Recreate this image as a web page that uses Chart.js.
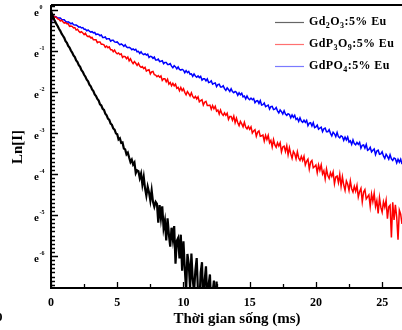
<!DOCTYPE html>
<html>
<head>
<meta charset="utf-8">
<script src="https://cdn.jsdelivr.net/npm/chart.js@4.4.1/dist/chart.umd.min.js"></script>
<style>
  html, body { margin: 0; padding: 0; background: #fff; }
  #wrap { width: 402px; height: 330px; }
</style>
</head>
<body>
<div id="wrap"><canvas id="decayChart" width="402" height="330"></canvas></div>
<script>
// ln(I), one value every 0.1 ms
const seriesNames = ['Gd2O3:5% Eu', 'GdP3O9:5% Eu', 'GdPO4:5% Eu'];
const seriesColors = ['#000000', '#ff0000', '#0000ff'];
const legendColors = ['#666666', '#ff7070', '#7a7aff'];

const timeStep = 0.1; // ms

const lnGd2O3 = [
  -0.25, -0.12, -0.22, -0.27, -0.34, -0.39, -0.46, -0.51, -0.58, -0.63,
  -0.68, -0.76, -0.80, -0.88, -0.92, -0.99, -1.04, -1.11, -1.15, -1.23,
  -1.27, -1.35, -1.39, -1.47, -1.51, -1.58, -1.63, -1.70, -1.74, -1.82,
  -1.86, -1.94, -1.98, -2.06, -2.10, -2.17, -2.21, -2.30, -2.33, -2.41,
  -2.44, -2.53, -2.57, -2.65, -2.68, -2.77, -2.80, -2.89, -2.92, -3.01,
  -3.03, -3.16, -3.13, -3.24, -3.23, -3.38, -3.40, -3.52, -3.48, -3.60,
  -3.71, -3.65, -3.77, -3.72, -3.98, -3.91, -3.93, -4.10, -3.99, -4.26,
  -4.07, -4.35, -4.53, -4.31, -4.45, -4.65, -4.40, -4.68, -4.80, -4.68,
  -4.73, -5.19, -4.76, -5.08, -4.79, -5.32, -5.14, -5.62, -5.08, -5.47,
  -5.77, -5.31, -5.59, -5.27, -6.19, -5.63, -5.56, -6.06, -5.48, -6.36,
  -5.64, -6.30, -6.85, -5.95, -6.19, -6.79, -5.94, -6.57, -6.88, -6.35,
  -6.05, -6.90, -7.20, -6.40, -6.15, -7.30, -6.60, -6.25, -7.10, -6.70,
  -6.45, -7.30, -6.90, -6.60, -7.40, -6.62, -7.30
];

const lnGdP3O9 = [
  -0.32, -0.15, -0.15, -0.18, -0.18, -0.22, -0.23, -0.27, -0.25, -0.29,
  -0.32, -0.31, -0.34, -0.34, -0.40, -0.39, -0.40, -0.44, -0.43, -0.49,
  -0.47, -0.52, -0.55, -0.53, -0.56, -0.60, -0.57, -0.63, -0.65, -0.64,
  -0.68, -0.67, -0.73, -0.73, -0.73, -0.80, -0.78, -0.78, -0.84, -0.84,
  -0.85, -0.91, -0.88, -0.92, -0.90, -0.97, -0.97, -1.02, -0.98, -1.04,
  -1.07, -1.05, -1.09, -1.07, -1.16, -1.13, -1.14, -1.19, -1.15, -1.24,
  -1.19, -1.26, -1.31, -1.26, -1.30, -1.35, -1.30, -1.37, -1.40, -1.38,
  -1.43, -1.40, -1.49, -1.47, -1.46, -1.56, -1.51, -1.50, -1.58, -1.59,
  -1.63, -1.60, -1.64, -1.61, -1.72, -1.68, -1.68, -1.75, -1.69, -1.81,
  -1.77, -1.85, -1.79, -1.85, -1.81, -1.91, -1.89, -1.97, -1.89, -1.97,
  -1.92, -2.01, -2.07, -1.99, -2.04, -2.10, -2.02, -2.11, -2.15, -2.11,
  -2.17, -2.12, -2.24, -2.21, -2.19, -2.32, -2.25, -2.23, -2.33, -2.33,
  -2.32, -2.42, -2.33, -2.41, -2.35, -2.47, -2.44, -2.54, -2.44, -2.53,
  -2.57, -2.51, -2.57, -2.52, -2.67, -2.60, -2.60, -2.69, -2.59, -2.75,
  -2.64, -2.75, -2.82, -2.72, -2.78, -2.85, -2.74, -2.86, -2.90, -2.84,
  -2.91, -2.85, -3.00, -2.95, -2.92, -3.08, -2.98, -2.95, -3.08, -3.07,
  -3.05, -3.20, -3.06, -3.16, -3.06, -3.24, -3.18, -3.34, -3.16, -3.29,
  -3.35, -3.24, -3.32, -3.24, -3.46, -3.34, -3.32, -3.45, -3.31, -3.53,
  -3.36, -3.51, -3.62, -3.45, -3.51, -3.63, -3.46, -3.61, -3.67, -3.57,
  -3.67, -3.57, -3.78, -3.69, -3.64, -3.88, -3.71, -3.67, -3.85, -3.82,
  -3.78, -3.97, -3.78, -3.91, -3.78, -4.00, -3.92, -4.12, -3.88, -4.04,
  -4.11, -3.97, -4.06, -3.95, -4.24, -4.07, -4.05, -4.21, -4.01, -4.30,
  -4.07, -4.27, -4.40, -4.17, -4.25, -4.40, -4.17, -4.36, -4.44, -4.30,
  -4.42, -4.28, -4.56, -4.43, -4.35, -4.68, -4.44, -4.38, -4.61, -4.56,
  -4.51, -4.79, -4.49, -4.67, -4.47, -4.79, -4.65, -4.96, -4.58, -4.81,
  -4.93, -4.68, -4.81, -4.64, -5.09, -4.80, -4.76, -5.55, -4.69, -5.12,
  -4.75, -5.05, -5.60, -4.88, -4.98, -5.22, -4.84
];

const lnGdPO4 = [
  -0.45, -0.12, -0.16, -0.16, -0.17, -0.20, -0.20, -0.20, -0.23, -0.24,
  -0.24, -0.28, -0.30, -0.29, -0.31, -0.34, -0.32, -0.36, -0.37, -0.37,
  -0.39, -0.42, -0.41, -0.44, -0.43, -0.47, -0.47, -0.51, -0.49, -0.52,
  -0.54, -0.53, -0.56, -0.55, -0.60, -0.59, -0.60, -0.63, -0.61, -0.67,
  -0.67, -0.66, -0.71, -0.70, -0.70, -0.76, -0.74, -0.74, -0.78, -0.79,
  -0.78, -0.82, -0.85, -0.83, -0.85, -0.89, -0.85, -0.90, -0.92, -0.91,
  -0.93, -0.97, -0.95, -0.98, -0.96, -1.02, -1.01, -1.06, -1.02, -1.07,
  -1.09, -1.07, -1.10, -1.08, -1.16, -1.13, -1.14, -1.18, -1.15, -1.22,
  -1.22, -1.20, -1.26, -1.25, -1.24, -1.31, -1.28, -1.28, -1.33, -1.33,
  -1.31, -1.37, -1.41, -1.36, -1.39, -1.44, -1.39, -1.45, -1.47, -1.45,
  -1.47, -1.53, -1.48, -1.53, -1.50, -1.57, -1.56, -1.62, -1.56, -1.61,
  -1.64, -1.61, -1.65, -1.62, -1.71, -1.68, -1.68, -1.73, -1.68, -1.77,
  -1.76, -1.73, -1.81, -1.79, -1.78, -1.87, -1.82, -1.81, -1.88, -1.88,
  -1.85, -1.92, -1.96, -1.90, -1.94, -1.99, -1.92, -1.99, -2.02, -1.99,
  -2.01, -2.08, -2.02, -2.07, -2.03, -2.12, -2.10, -2.17, -2.10, -2.16,
  -2.19, -2.15, -2.19, -2.16, -2.26, -2.22, -2.21, -2.28, -2.21, -2.32,
  -2.31, -2.27, -2.36, -2.34, -2.32, -2.42, -2.36, -2.35, -2.43, -2.42,
  -2.38, -2.46, -2.51, -2.44, -2.48, -2.54, -2.46, -2.54, -2.57, -2.53,
  -2.55, -2.63, -2.56, -2.62, -2.57, -2.67, -2.64, -2.72, -2.63, -2.71,
  -2.74, -2.69, -2.74, -2.69, -2.82, -2.76, -2.75, -2.83, -2.75, -2.87,
  -2.85, -2.81, -2.91, -2.88, -2.86, -2.97, -2.90, -2.88, -2.97, -2.97,
  -2.92, -3.01, -3.07, -2.98, -3.02, -3.09, -2.99, -3.09, -3.12, -3.07,
  -3.09, -3.18, -3.10, -3.17, -3.10, -3.22, -3.19, -3.28, -3.17, -3.26,
  -3.29, -3.23, -3.28, -3.23, -3.37, -3.30, -3.29, -3.37, -3.28, -3.42,
  -3.40, -3.35, -3.46, -3.42, -3.39, -3.53, -3.44, -3.42, -3.52, -3.51,
  -3.46, -3.56, -3.62, -3.52, -3.57, -3.64, -3.53, -3.63, -3.67, -3.61,
  -3.63, -3.73, -3.64, -3.71, -3.64, -3.76, -3.73
];

const xTicks = [0, 5, 10, 15, 20, 25];
const yTicks = [0, -1, -2, -3, -4, -5, -6];

const SERIF = '"Liberation Serif", "Times New Roman", serif';

function toPoints(values) {
  return values.map((v, i) => ({ x: +(i * timeStep).toFixed(2), y: v }));
}

// digits right after a letter are drawn as subscripts
function drawChemLabel(ctx, text, x, y) {
  let cx = x;
  for (let i = 0; i < text.length; i++) {
    const ch = text[i];
    const isSub = /[0-9]/.test(ch) && i > 0 && /[A-Za-z]/.test(text[i - 1]);
    ctx.font = isSub ? 'bold 8px ' + SERIF : 'bold 12px ' + SERIF;
    ctx.fillText(ch, cx, isSub ? y + 4 : y);
    cx += ctx.measureText(ch).width + (isSub ? 0.5 : 0.4);
  }
}

const framePlugin = {
  id: 'frame',
  afterDatasetsDraw(chart) {
    const { ctx, chartArea: a, scales: { x, y } } = chart;
    ctx.save();
    ctx.strokeStyle = '#000';
    ctx.fillStyle = '#000';

    // axis lines + top frame
    ctx.lineWidth = 2;
    ctx.beginPath();
    ctx.moveTo(a.left, a.top); ctx.lineTo(a.right, a.top);
    ctx.moveTo(a.left, a.top); ctx.lineTo(a.left, a.bottom);
    ctx.moveTo(a.left - 1, a.bottom); ctx.lineTo(a.right, a.bottom);
    ctx.stroke();

    // inward ticks: y minor every 0.1, x minor halfway
    ctx.lineWidth = 1.3;
    ctx.beginPath();
    for (let k = -67; k <= 1; k++) {
      const py = Math.round(y.getPixelForValue(k / 10)) + 0.5;
      const len = k % 10 === 0 ? 7 : 4;
      ctx.moveTo(a.left, py); ctx.lineTo(a.left + len, py);
    }
    for (let v = 0; v <= 26; v += 2.5) {
      const px = Math.round(x.getPixelForValue(v)) + 0.5;
      const len = v % 5 === 0 ? 6 : 4;
      ctx.moveTo(px, a.bottom); ctx.lineTo(px, a.bottom - len);
    }
    ctx.stroke();

    // y tick labels e^n
    yTicks.forEach(v => {
      const py = y.getPixelForValue(v);
      ctx.textAlign = 'right';
      ctx.textBaseline = 'alphabetic';
      ctx.font = 'bold 11px ' + SERIF;
      ctx.fillText('e', 39, py + 6);
      ctx.textAlign = 'left';
      ctx.font = 'bold 6px ' + SERIF;
      ctx.fillText(v === 0 ? '0' : '-' + Math.abs(v), 39.5, py - 1);
    });

    // x tick labels
    ctx.textAlign = 'center';
    ctx.textBaseline = 'middle';
    ctx.font = 'bold 12px ' + SERIF;
    xTicks.forEach(v => ctx.fillText(String(v), x.getPixelForValue(v), 303));

    // axis titles
    ctx.font = 'bold 15px ' + SERIF;
    ctx.fillText('Thời gian sống (ms)', 237, 319);
    ctx.save();
    ctx.translate(18, 147);
    ctx.rotate(-Math.PI / 2);
    ctx.fillText('Ln[I]', 0, 0);
    ctx.restore();

    // stray glyph cut by the left edge of the original
    ctx.textAlign = 'left';
    ctx.font = 'bold 13px ' + SERIF;
    ctx.fillText('0', -4, 318);

    // legend
    const rows = [22.5, 44.5, 66.5];
    ctx.textBaseline = 'middle';
    seriesNames.forEach((name, i) => {
      ctx.strokeStyle = legendColors[i];
      ctx.lineWidth = 1.2;
      ctx.beginPath();
      ctx.moveTo(275, rows[i]); ctx.lineTo(304, rows[i]);
      ctx.stroke();
      ctx.fillStyle = '#000';
      drawChemLabel(ctx, name, 309, rows[i] - 1);
    });
    ctx.restore();
  }
};

new Chart(document.getElementById('decayChart').getContext('2d'), {
  type: 'line',
  data: {
    datasets: [
      { label: seriesNames[0], data: toPoints(lnGd2O3), borderColor: seriesColors[0], borderWidth: 2.2 },
      { label: seriesNames[1], data: toPoints(lnGdP3O9), borderColor: seriesColors[1], borderWidth: 1.5 },
      { label: seriesNames[2], data: toPoints(lnGdPO4), borderColor: seriesColors[2], borderWidth: 1.5 }
    ]
  },
  options: {
    responsive: false,
    animation: false,
    layout: { padding: { left: 51, right: 0, top: 5, bottom: 42 } },
    elements: { point: { radius: 0 }, line: { tension: 0 } },
    plugins: { legend: { display: false }, tooltip: { enabled: false } },
    scales: {
      x: { type: 'linear', min: 0, max: 26.5, display: false },
      y: { type: 'linear', min: -6.78, max: 0.12, display: false }
    }
  },
  plugins: [framePlugin]
});
</script>
</body>
</html>
